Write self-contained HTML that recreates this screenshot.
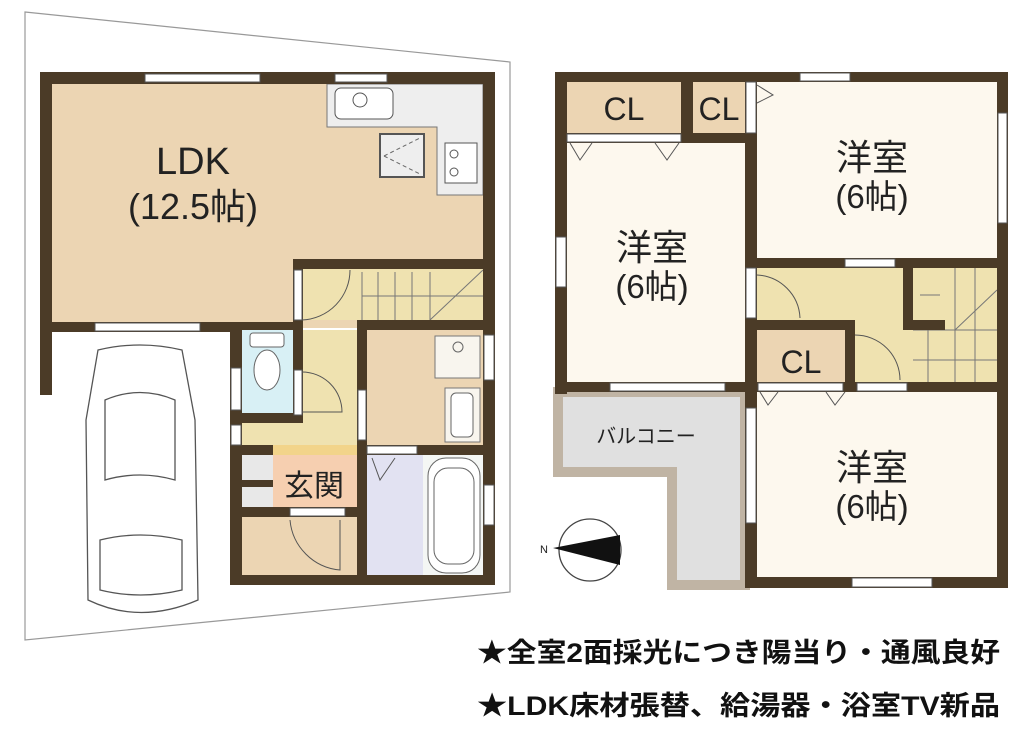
<!DOCTYPE html>
<html><head><meta charset="utf-8"><style>
html,body{margin:0;padding:0;background:#fff;}
svg{display:block;}
text{font-family:"Liberation Sans","Noto Sans CJK JP",sans-serif;}
</style></head><body>
<svg width="1024" height="735" viewBox="0 0 1024 735" xmlns="http://www.w3.org/2000/svg">
<polygon points="25,12 510,62 510,592 25,640" fill="none" stroke="#999" stroke-width="1.2"/>
<!-- LEFT FLOOR fills -->
<rect x="46" y="78" width="443" height="250" fill="#ecd5b3"/>
<rect x="303" y="269" width="180" height="51" fill="#efe2b0"/>
<rect x="242" y="330" width="115" height="115" fill="#efe2b0"/>
<rect x="242" y="330" width="51" height="88" fill="#d8f0f5"/>
<rect x="367" y="330" width="116" height="115" fill="#ecd5b3"/>
<rect x="367" y="455" width="56" height="120" fill="#e2e2f2"/>
<rect x="423" y="455" width="60" height="120" fill="#f4f6f4"/>
<rect x="273" y="455" width="84" height="52" fill="#f6cfb0"/>
<rect x="273" y="445" width="84" height="10" fill="#f2d48a"/>
<rect x="242" y="455" width="31" height="52" fill="#e8e8e8"/>
<rect x="242" y="517" width="115" height="60" fill="#ecd5b3"/>
<polygon points="327,84 483,84 483,195 437,195 437,127 327,127" fill="#eeeeee" stroke="#777"/>
<rect x="335" y="88" width="58" height="31" rx="6" fill="#fff" stroke="#555"/>
<circle cx="360" cy="100" r="7" fill="#fff" stroke="#555"/>
<rect x="380" y="134" width="44" height="43" fill="#eee" stroke="#555" stroke-width="2"/>
<path d="M384,156 L420,138 M384,156 L420,174" stroke="#666" stroke-dasharray="4,3" fill="none"/>
<rect x="445" y="143" width="32" height="40" fill="#fff" stroke="#555"/>
<circle cx="454" cy="154" r="4" fill="none" stroke="#555"/><circle cx="454" cy="172" r="4" fill="none" stroke="#555"/>
<g stroke="#777" stroke-width="1" fill="none">
<line x1="362" y1="272" x2="362" y2="320"/><line x1="378" y1="272" x2="378" y2="320"/><line x1="395" y1="272" x2="395" y2="320"/><line x1="412" y1="272" x2="412" y2="320"/><line x1="430" y1="272" x2="430" y2="320"/>
<line x1="362" y1="296" x2="483" y2="296"/><line x1="430" y1="320" x2="483" y2="270"/>
</g>
<rect x="250" y="333" width="34" height="14" rx="3" fill="#fff" stroke="#666"/>
<ellipse cx="267" cy="370" rx="13" ry="20" fill="#fff" stroke="#666"/>
<rect x="435" y="336" width="45" height="42" fill="#f8f5ee" stroke="#777"/>
<circle cx="458" cy="347" r="5" fill="none" stroke="#666"/>
<rect x="445" y="388" width="35" height="54" fill="#f8f5ee" stroke="#777"/>
<rect x="451" y="393" width="22" height="44" rx="5" fill="#fff" stroke="#666"/>
<rect x="428" y="458" width="52" height="115" rx="18" fill="#fff" stroke="#666"/>
<rect x="434" y="468" width="40" height="96" rx="14" fill="none" stroke="#666"/>
<g fill="#4b3b27">
<rect x="40" y="72" width="455" height="12"/>
<rect x="40" y="72" width="12" height="323"/>
<rect x="483" y="72" width="12" height="513"/>
<rect x="40" y="322" width="192" height="10"/>
<rect x="293" y="259" width="190" height="10"/>
<rect x="293" y="259" width="10" height="163"/>
<rect x="230" y="322" width="12" height="263"/>
<rect x="230" y="322" width="73" height="8"/>
<rect x="230" y="413" width="73" height="10"/>
<rect x="357" y="320" width="126" height="10"/>
<rect x="357" y="320" width="10" height="265"/>
<rect x="357" y="445" width="126" height="10"/>
<rect x="230" y="507" width="127" height="10"/>
<rect x="230" y="575" width="127" height="10"/>
<rect x="357" y="575" width="138" height="10"/>
<rect x="230" y="445" width="43" height="10"/>
<rect x="230" y="480" width="43" height="7"/>
</g>
<g fill="#fff" stroke="#555" stroke-width="1">
<rect x="145" y="74" width="115" height="8"/><rect x="335" y="74" width="52" height="8"/>
<rect x="95" y="323" width="105" height="8"/>
<rect x="294" y="270" width="8" height="50"/><rect x="294" y="370" width="8" height="45"/>
<rect x="231" y="368" width="10" height="42"/><rect x="231" y="425" width="10" height="20"/>
<rect x="358" y="390" width="8" height="50"/>
<rect x="367" y="446" width="50" height="8"/>
<rect x="290" y="508" width="55" height="8"/>
<rect x="484" y="335" width="10" height="45"/><rect x="484" y="485" width="10" height="40"/>
</g>
<g fill="none" stroke="#555" stroke-width="1">
<path d="M302,320 A50,50 0 0,0 350,270"/>
<path d="M302,372 A40,40 0 0,1 342,412 L302,412"/>
<path d="M290,520 A55,55 0 0,0 340,570 L340,520"/>
<path d="M372,458 L380,480 L395,458"/>
</g>
<g fill="#fff" stroke="#555" stroke-width="1.3">
<path d="M98,350 Q140,340 182,350 L195,420 L198,600 Q140,625 88,600 L86,420 Z"/>
<path d="M105,400 Q140,385 175,400 L175,480 Q140,470 105,480 Z"/>
<path d="M100,540 Q140,530 182,540 L182,590 Q140,600 100,590 Z"/>
</g>
<!-- RIGHT FLOOR fills -->
<rect x="561" y="78" width="440" height="310" fill="#fdf8ee"/>
<rect x="751" y="388" width="250" height="192" fill="#fdf8ee"/>
<rect x="567" y="82" width="114" height="51" fill="#ecd5b3"/>
<rect x="693" y="82" width="52" height="51" fill="#ecd5b3"/>
<rect x="757" y="268" width="240" height="114" fill="#efe2b0"/>
<rect x="757" y="330" width="88" height="52" fill="#ecd5b3"/>
<polygon points="558,392 745,392 745,585 672,585 672,472 558,472" fill="#e0e0e0" stroke="#c0b4a4" stroke-width="10"/>
<g stroke="#777" stroke-width="1" fill="none">
<line x1="913" y1="330" x2="997" y2="330"/><line x1="955" y1="268" x2="955" y2="382"/><line x1="913" y1="360" x2="997" y2="360"/>
<line x1="928" y1="330" x2="928" y2="382"/><line x1="975" y1="268" x2="975" y2="382"/><line x1="955" y1="330" x2="997" y2="290"/>
<line x1="940" y1="295" x2="920" y2="295"/>
</g>
<g fill="#4b3b27">
<rect x="555" y="72" width="453" height="10"/>
<rect x="555" y="72" width="12" height="322"/>
<rect x="997" y="72" width="11" height="516"/>
<rect x="681" y="82" width="12" height="61"/>
<rect x="567" y="133" width="114" height="10"/>
<rect x="681" y="133" width="76" height="10"/>
<rect x="745" y="72" width="12" height="516"/>
<rect x="555" y="382" width="453" height="10"/>
<rect x="745" y="258" width="263" height="10"/>
<rect x="745" y="320" width="110" height="10"/>
<rect x="845" y="320" width="10" height="72"/>
<rect x="903" y="262" width="10" height="68"/>
<rect x="903" y="320" width="42" height="10"/>
<rect x="745" y="577" width="263" height="11"/>
</g>
<g fill="#fff" stroke="#555" stroke-width="1">
<rect x="800" y="73" width="50" height="8"/><rect x="998" y="113" width="9" height="110"/>
<rect x="556" y="237" width="10" height="50"/><rect x="610" y="383" width="115" height="8"/>
<rect x="746" y="82" width="10" height="51"/><rect x="746" y="268" width="10" height="50"/>
<rect x="845" y="259" width="50" height="8"/><rect x="758" y="383" width="85" height="8"/>
<rect x="857" y="383" width="50" height="8"/><rect x="746" y="408" width="10" height="115"/>
<rect x="852" y="578" width="80" height="9"/><rect x="567" y="134" width="114" height="8"/>
</g>
<g fill="none" stroke="#555" stroke-width="1">
<path d="M570,143 L580,160 L592,143 M655,143 L667,160 L679,143"/>
<path d="M760,392 L768,405 L778,392 M826,392 L835,405 L845,392"/>
<path d="M757,275 A45,45 0 0,1 800,318"/><path d="M855,335 A45,45 0 0,1 900,380"/>
<path d="M757,85 L773,95 L757,103"/>
</g>
<circle cx="590" cy="550" r="31" fill="#fff" stroke="#444" stroke-width="1.3"/>
<polygon points="553,548 620,535 620,565" fill="#111"/>
<text x="540" y="553" font-size="11" fill="#222">N</text>
<g fill="#222" text-anchor="middle">
<text x="193" y="174" font-size="38">LDK</text>
<text x="193" y="219" font-size="36">(12.5帖)</text>
<text x="872" y="170" font-size="36">洋室</text>
<text x="872" y="208" font-size="33">(6帖)</text>
<text x="652" y="260" font-size="36">洋室</text>
<text x="652" y="298" font-size="33">(6帖)</text>
<text x="872" y="480" font-size="36">洋室</text>
<text x="872" y="518" font-size="33">(6帖)</text>
<text x="624" y="120" font-size="32">CL</text>
<text x="719" y="120" font-size="32">CL</text>
<text x="801" y="373" font-size="32">CL</text>
<text x="314" y="496" font-size="30">玄関</text>
<text x="646" y="443" font-size="20">バルコニー</text>
</g>
<g fill="#111" font-weight="bold" font-size="27">
<text x="477" y="662" textLength="523" lengthAdjust="spacingAndGlyphs">★全室2面採光につき陽当り・通風良好</text>
<text x="477" y="715" textLength="523" lengthAdjust="spacingAndGlyphs">★LDK床材張替、給湯器・浴室TV新品</text>
</g>
</svg>
</body></html>
